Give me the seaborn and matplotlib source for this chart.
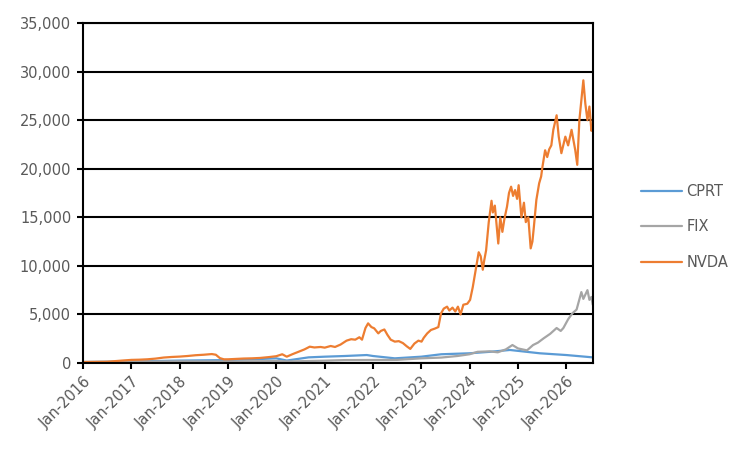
import pandas as pd
import matplotlib.pyplot as plt
import matplotlib.dates as mdates
from matplotlib.ticker import FuncFormatter
import seaborn as sns

# 读取数值
nvda_dates = [
    "2016-01-01", "2016-04-01", "2016-07-01", "2016-09-01", "2016-11-01",
    "2017-01-01", "2017-03-01", "2017-05-01", "2017-07-01", "2017-09-01", "2017-11-01",
    "2018-01-01", "2018-03-01", "2018-05-01", "2018-07-01", "2018-09-01", "2018-10-01",
    "2018-11-01", "2018-12-01", "2019-01-01", "2019-03-01", "2019-05-01", "2019-07-01",
    "2019-09-01", "2019-11-01", "2020-01-01", "2020-02-15", "2020-03-20", "2020-05-01",
    "2020-06-15", "2020-08-01", "2020-09-10", "2020-10-15", "2020-12-01", "2021-01-01",
    "2021-02-15", "2021-03-20", "2021-05-01", "2021-06-15", "2021-07-20", "2021-08-20",
    "2021-09-20", "2021-10-10", "2021-11-05", "2021-11-25", "2021-12-20", "2022-01-10",
    "2022-02-10", "2022-03-01", "2022-03-28", "2022-04-20", "2022-05-15", "2022-06-15",
    "2022-07-15", "2022-08-15", "2022-09-15", "2022-10-10", "2022-11-10", "2022-12-10",
    "2023-01-03", "2023-01-20", "2023-02-15", "2023-03-15", "2023-04-15", "2023-05-10",
    "2023-05-30", "2023-06-20", "2023-07-15", "2023-08-01", "2023-08-25", "2023-09-15",
    "2023-10-05", "2023-10-25", "2023-11-15", "2023-12-15", "2024-01-05", "2024-01-25",
    "2024-02-20", "2024-03-10", "2024-03-25", "2024-04-10", "2024-04-20", "2024-05-05",
    "2024-05-25", "2024-06-15", "2024-06-25", "2024-07-10", "2024-07-25", "2024-08-05",
    "2024-08-20", "2024-09-05", "2024-09-20", "2024-10-10", "2024-10-25", "2024-11-10",
    "2024-11-25", "2024-12-10", "2024-12-25", "2025-01-06", "2025-01-27", "2025-02-15",
    "2025-03-01", "2025-03-20", "2025-04-07", "2025-04-20", "2025-05-01", "2025-05-20",
    "2025-06-10", "2025-06-25", "2025-07-05", "2025-07-25", "2025-08-10", "2025-08-25",
    "2025-09-10", "2025-09-25", "2025-10-20", "2025-11-05", "2025-11-25", "2025-12-25",
    "2026-01-15", "2026-02-10", "2026-03-10", "2026-03-25", "2026-04-10", "2026-04-25",
    "2026-05-10", "2026-05-25", "2026-06-10", "2026-06-25", "2026-07-10", "2026-07-20",
]
nvda_vals = [
    100, 110, 130, 200, 260,
    320, 340, 380, 450, 560, 620,
    660, 720, 800, 850, 920, 850,
    500, 380, 380, 420, 460, 480,
    520, 600, 700, 900, 650, 900,
    1150, 1400, 1680, 1600, 1650, 1580,
    1750, 1650, 1900, 2300, 2450, 2400,
    2650, 2400, 3600, 4080, 3700, 3570,
    3050, 3300, 3450, 2900, 2400, 2200,
    2250, 2050, 1700, 1450, 2000, 2300,
    2200, 2600, 3050, 3400, 3550, 3700,
    5100, 5600, 5800, 5400, 5700, 5300,
    5800, 5000, 6000, 6100, 6500, 7800,
    9900, 11400, 11000, 9600, 10500, 11600,
    14500, 16700, 15500, 16200, 14000, 12300,
    15000, 13500, 14800, 16100, 17500, 18150,
    17200, 17800, 16900, 18300, 15000, 16500,
    14500, 15000, 11800, 12500, 14000, 16800,
    18500, 19200, 20200, 21900, 21200, 22000,
    22400, 24000, 25500, 23300, 21600, 23300,
    22400, 24000, 21900, 20400, 25000, 27000,
    29100, 26700, 25000, 26400, 23900, 24500,
]

fix_dates = [
    "2016-01-01", "2017-01-01", "2018-01-01", "2019-01-01", "2020-01-01", "2020-04-01",
    "2021-01-01", "2021-06-01", "2022-01-01", "2022-07-01", "2023-01-01", "2023-06-01",
    "2023-10-01", "2024-01-01", "2024-03-01", "2024-06-01", "2024-08-01", "2024-10-01",
    "2024-11-20", "2025-01-01", "2025-03-10", "2025-04-25", "2025-06-01", "2025-07-15",
    "2025-09-01", "2025-10-20", "2025-11-20", "2025-12-10", "2026-01-15", "2026-02-15",
    "2026-03-20", "2026-04-25", "2026-05-10", "2026-06-10", "2026-06-25", "2026-07-10",
    "2026-07-20",
]
fix_vals = [
    100, 130, 170, 150, 200, 160,
    240, 300, 310, 320, 480, 560,
    720, 900, 1150, 1200, 1100, 1400,
    1850, 1500, 1300, 1850, 2100, 2550,
    3000, 3600, 3300, 3600, 4500, 5100,
    5500, 7300, 6600, 7500, 6500, 6800,
    6000,
]

cprt_dates = [
    "2016-01-01", "2017-01-01", "2018-01-01", "2019-01-01", "2019-07-01", "2020-01-01",
    "2020-03-20", "2020-09-01", "2021-01-01", "2021-06-01", "2021-11-15", "2022-01-01",
    "2022-06-15", "2023-01-01", "2023-06-01", "2024-01-01", "2024-06-01", "2024-11-01",
    "2025-03-01", "2025-06-15", "2026-01-01", "2026-07-20",
]
cprt_vals = [
    100, 150, 250, 300, 380, 480,
    250, 580, 650, 720, 820, 720,
    480, 650, 900, 1000, 1150, 1340,
    1160, 1000, 820, 580,
]

series = ["CPRT", "FIX", "NVDA"]
colors = ["#5B9BD5", "#A5A5A5", "#ED7D31"]

df = pd.concat([
    pd.DataFrame({"date": pd.to_datetime(cprt_dates), "value": cprt_vals, "ticker": "CPRT"}),
    pd.DataFrame({"date": pd.to_datetime(fix_dates), "value": fix_vals, "ticker": "FIX"}),
    pd.DataFrame({"date": pd.to_datetime(nvda_dates), "value": nvda_vals, "ticker": "NVDA"}),
])

sns.set_style("white")
plt.rcParams["font.family"] = ["DejaVu Sans"]

fig = plt.figure(figsize=(7.52, 4.54), dpi=100)
ax = fig.add_axes([83 / 752, 1 - 363 / 454, 510 / 752, 340 / 454])

sns.lineplot(data=df, x="date", y="value", hue="ticker", hue_order=series,
             palette=colors, linewidth=1.6, ax=ax, estimator=None)

ax.set_xlim(pd.Timestamp("2016-01-01"), pd.Timestamp("2026-07-22"))
ax.set_ylim(0, 35000)
ax.set_yticks(range(0, 35001, 5000))
ax.yaxis.set_major_formatter(FuncFormatter(lambda v, p: f"{int(v):,}"))
ax.xaxis.set_major_locator(mdates.YearLocator())
ax.xaxis.set_major_formatter(mdates.DateFormatter("%b-%Y"))

ax.grid(axis="y", color="black", linewidth=1.5)
ax.set_axisbelow(True)
for s in ax.spines.values():
    s.set_color("black")
    s.set_linewidth(1.5)
    s.set_visible(True)

ax.tick_params(axis="both", direction="out", length=4.5, width=1.5, color="black",
               labelcolor="#595959", labelsize=10.5, left=True, bottom=True)
ax.tick_params(axis="y", pad=4)
for lab in ax.get_xticklabels():
    lab.set_rotation(45)
    lab.set_ha("right")
    lab.set_rotation_mode("anchor")

ax.set_xlabel("")
ax.set_ylabel("")

ax.legend_.remove()
handles = ax.get_lines()[:3]
leg = fig.legend(handles, series, loc="center left", bbox_to_anchor=(641 / 752, 1 - 226.7 / 454),
                 frameon=False, fontsize=10.5, handlelength=2.8, handletextpad=0.3,
                 labelspacing=1.4, borderpad=0, borderaxespad=0)
for t in leg.get_texts():
    t.set_color("#595959")

plt.savefig("out.png", dpi=100)
